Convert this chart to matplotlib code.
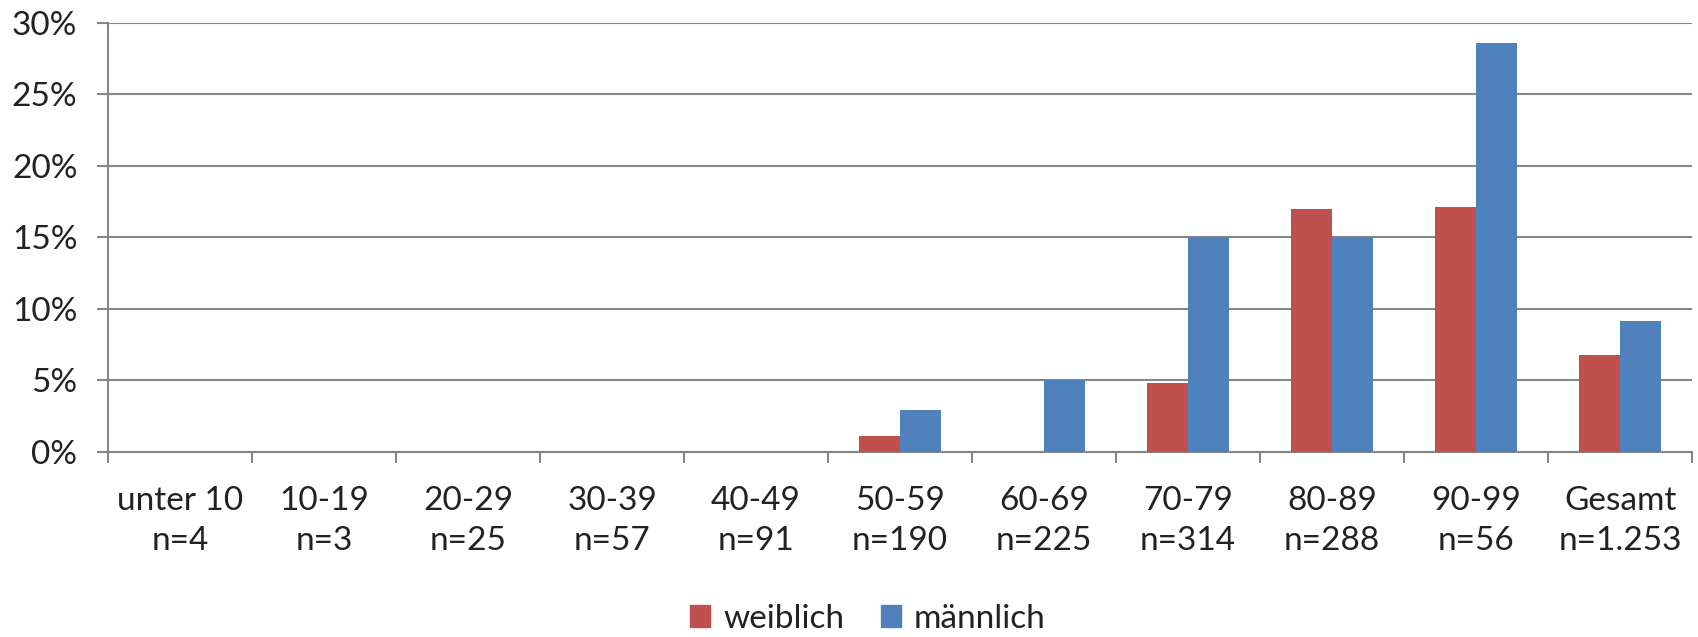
import matplotlib
matplotlib.use('agg')
import matplotlib.pyplot as plt
import numpy as np
from matplotlib.ticker import MultipleLocator, FuncFormatter, FixedLocator
from matplotlib.patches import Patch

# Daten
categories = ['unter 10\nn=4', '10-19\nn=3', '20-29\nn=25', '30-39\nn=57', '40-49\nn=91',
              '50-59\nn=190', '60-69\nn=225', '70-79\nn=314', '80-89\nn=288',
              '90-99\nn=56', 'Gesamt\nn=1.253']
weiblich = [0, 0, 0, 0, 0, 1.1, 0, 4.8, 17.0, 17.1, 6.75]
maennlich = [0, 0, 0, 0, 0, 2.9, 5.0, 15.0, 15.0, 28.55, 9.15]

red = '#C0504D'
blue = '#4F81BD'
grid_c = '#868686'

plt.rcParams['font.family'] = ['Lato', 'DejaVu Sans']
plt.rcParams['font.size'] = 24

fig = plt.figure(figsize=(16.98, 6.37), dpi=100)
ax = fig.add_axes([0.0636, 0.291, 0.933, 0.6735])

x = np.arange(len(categories))
w = 0.2857
ax.bar(x - w / 2, weiblich, w, color=red, edgecolor='none', zorder=3)
ax.bar(x + w / 2, maennlich, w, color=blue, edgecolor='none', zorder=3)

ax.set_ylim(0, 30)
ax.set_xlim(-0.5, len(categories) - 0.5)
ax.yaxis.set_major_locator(MultipleLocator(5))
ax.yaxis.set_major_formatter(FuncFormatter(lambda v, p: f'{v:.0f}%'))
ax.grid(axis='y', color=grid_c, linewidth=1.5, zorder=0)

ax.set_xticks(x)
ax.set_xticklabels(categories, linespacing=1.4)
ax.xaxis.set_minor_locator(FixedLocator(np.arange(-0.5, len(categories), 1.0)))
ax.tick_params(axis='x', which='major', length=0, pad=25, colors='#222222')
ax.tick_params(axis='x', which='minor', length=8, width=1.5, color=grid_c)
ax.tick_params(axis='y', length=8, width=1.5, color=grid_c, pad=14, labelcolor='#222222')

for s in ['top', 'right']:
    ax.spines[s].set_visible(False)
for s in ['left', 'bottom']:
    ax.spines[s].set_color(grid_c)
    ax.spines[s].set_linewidth(1.5)

handles = [Patch(color=red, label='weiblich'), Patch(color=blue, label='männlich')]
fig.legend(handles=handles, loc='lower center', bbox_to_anchor=(0.511, -0.042), ncol=2,
           frameon=False, handlelength=0.6, handleheight=0.6, handletextpad=0.4,
           columnspacing=1.1, labelcolor='#222222')

fig.savefig('out.png', dpi=100)
plt.close()
